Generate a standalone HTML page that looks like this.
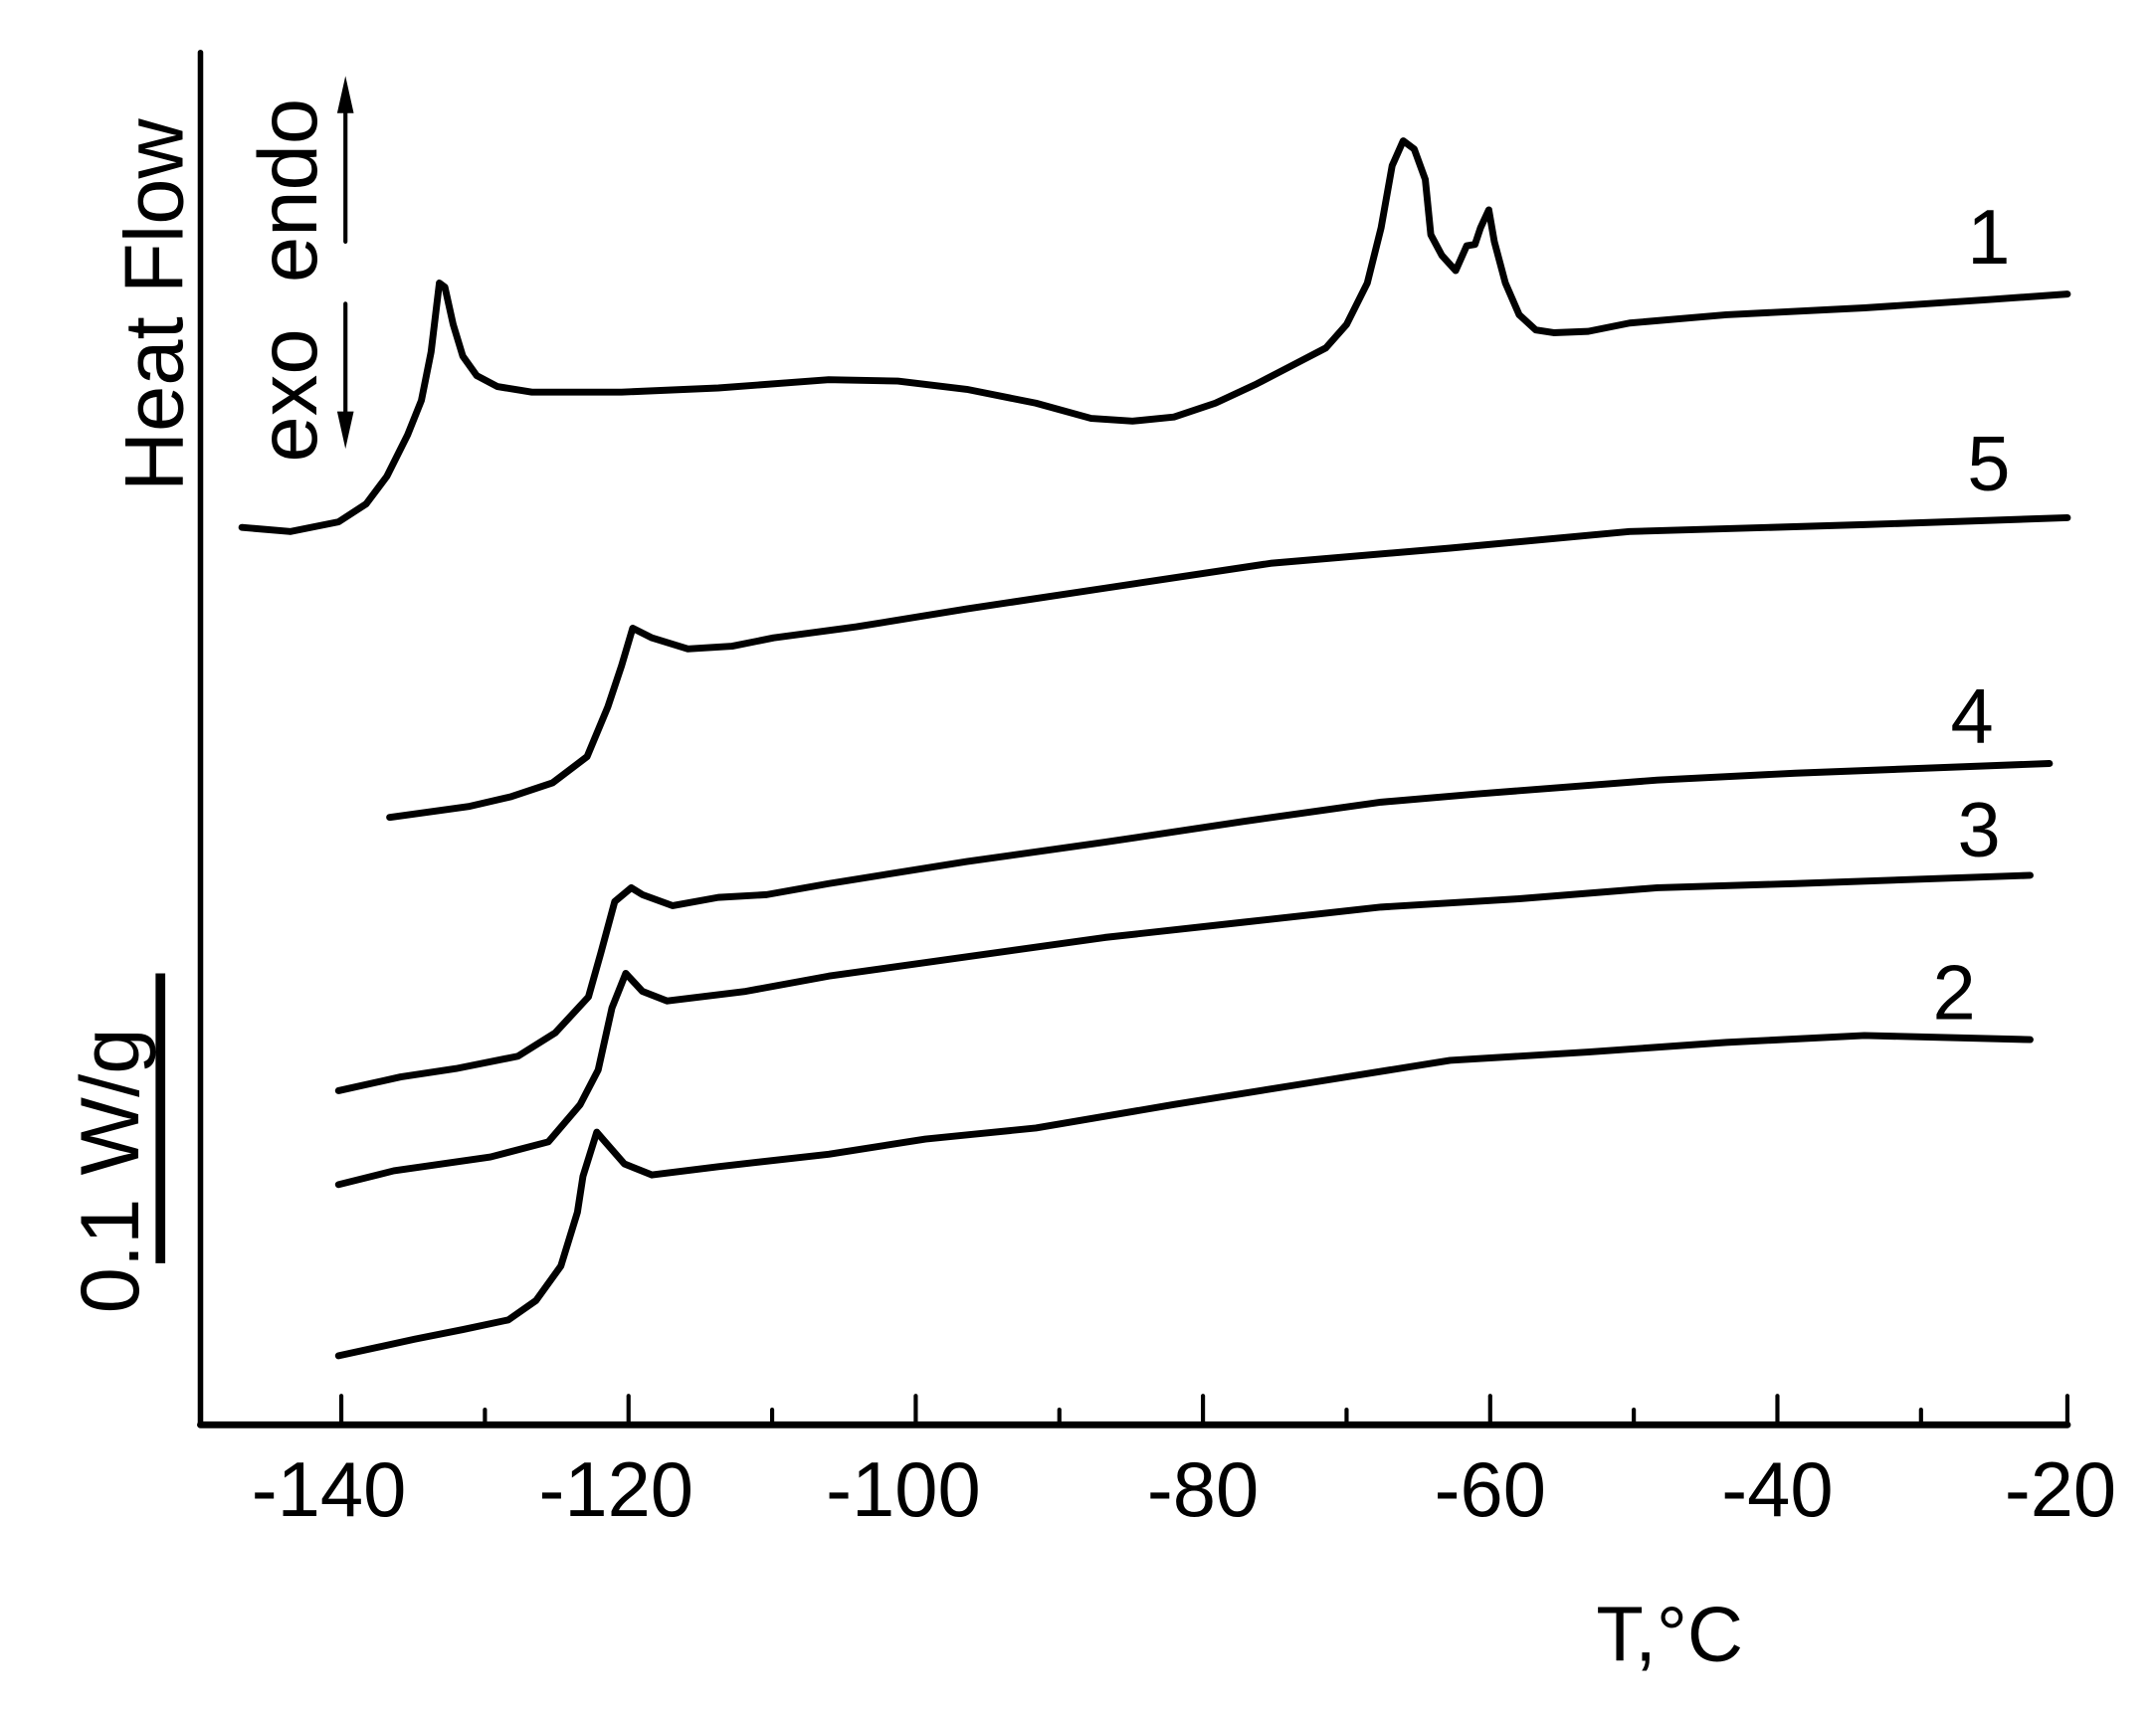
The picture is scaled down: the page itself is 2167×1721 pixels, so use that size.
<!DOCTYPE html>
<html><head><meta charset="utf-8"><style>html,body{margin:0;padding:0;background:#fff}svg{display:block}</style></head>
<body>
<svg width="2167" height="1721" viewBox="0 0 1561 1240" xmlns="http://www.w3.org/2000/svg" font-family="Liberation Sans, Arial, sans-serif">
<rect width="1561" height="1240" fill="#fff"/>
<g stroke="#000" fill="none" stroke-linecap="round">
<line x1="145" y1="38" x2="145" y2="1032" stroke-width="4"/>
<line x1="145" y1="1032" x2="1497" y2="1032" stroke-width="5"/>
<g stroke-width="3">
<line x1="247" y1="1032" x2="247" y2="1011"/><line x1="351" y1="1032" x2="351" y2="1021"/>
<line x1="455" y1="1032" x2="455" y2="1011"/><line x1="559" y1="1032" x2="559" y2="1021"/>
<line x1="663" y1="1032" x2="663" y2="1011"/><line x1="767" y1="1032" x2="767" y2="1021"/>
<line x1="871" y1="1032" x2="871" y2="1011"/><line x1="975" y1="1032" x2="975" y2="1021"/>
<line x1="1079" y1="1032" x2="1079" y2="1011"/><line x1="1183" y1="1032" x2="1183" y2="1021"/>
<line x1="1287" y1="1032" x2="1287" y2="1011"/><line x1="1391" y1="1032" x2="1391" y2="1021"/>
<line x1="1497" y1="1032" x2="1497" y2="1011"/>
</g>
<line x1="116" y1="705" x2="116" y2="915" stroke-width="7" stroke-linecap="butt"/>
<line x1="250" y1="75" x2="250" y2="175" stroke-width="3"/>
<line x1="250" y1="220" x2="250" y2="305" stroke-width="3"/>
<g stroke-width="5" stroke-linejoin="round">
<polyline points="175,382 210,385 245,378 265,365 280,345 295,315 305,290 312,255 318,205 322,208 328,235 335,258 345,272 360,280 385,284 450,284 520,281 600,275 650,276 700,282 750,292 790,303 820,305 850,302 880,292 910,278 935,265 960,252 975,235 990,205 1000,165 1008,120 1016,102 1024,108 1032,130 1036,170 1044,185 1054,196 1062,178 1068,177 1072,165 1078,152 1082,175 1090,205 1100,228 1112,239 1125,241 1150,240 1180,234 1250,228 1350,223 1440,217 1497,213"/>
<polyline points="282,592 340,584 370,577 400,567 425,548 440,512 450,482 458,455 472,462 498,470 530,468 560,462 620,454 700,441 800,426 920,408 1050,397 1180,385 1350,380 1497,375"/>
<polyline points="245,790 290,780 330,774 375,765 402,748 426,722 435,690 445,653 457,643 465,648 487,656 520,650 555,648 600,640 700,624 800,610 900,595 1000,581 1070,575 1200,565 1300,560 1484,553"/>
<polyline points="245,858 285,848 355,838 397,827 420,800 433,775 443,730 453,705 465,718 483,725 540,718 600,707 700,693 800,679 900,668 1000,657 1100,651 1200,643 1300,640 1470,634"/>
<polyline points="245,982 300,970 335,963 368,956 388,942 406,917 418,878 422,852 432,820 438,827 452,843 472,851 520,845 600,836 670,825 750,817 850,800 950,784 1050,768 1150,762 1250,755 1350,750 1470,753"/>
</g>
</g>
<polygon points="250,55 244,82 256,82" fill="#000"/>
<polygon points="250,325 244,298 256,298" fill="#000"/>
<g font-size="56" text-anchor="middle" fill="#000">
<text x="238" y="1098">-140</text><text x="446" y="1098">-120</text><text x="654" y="1098">-100</text>
<text x="871" y="1098">-80</text><text x="1079" y="1098">-60</text><text x="1287" y="1098">-40</text><text x="1492" y="1098">-20</text>
<text x="1209" y="1203">T,°C</text>
<text x="1440" y="191">1</text><text x="1440" y="355">5</text><text x="1428" y="538">4</text>
<text x="1433" y="620">3</text><text x="1415" y="738">2</text>
</g>
<g font-size="60" text-anchor="middle" fill="#000">
<text transform="translate(132,221) rotate(-90)">Heat Flow</text>
<text transform="translate(229,203) rotate(-90)" xml:space="preserve">exo  endo</text>
<text transform="translate(100,848) rotate(-90)">0.1 W/g</text>
</g>
</svg>
</body></html>
